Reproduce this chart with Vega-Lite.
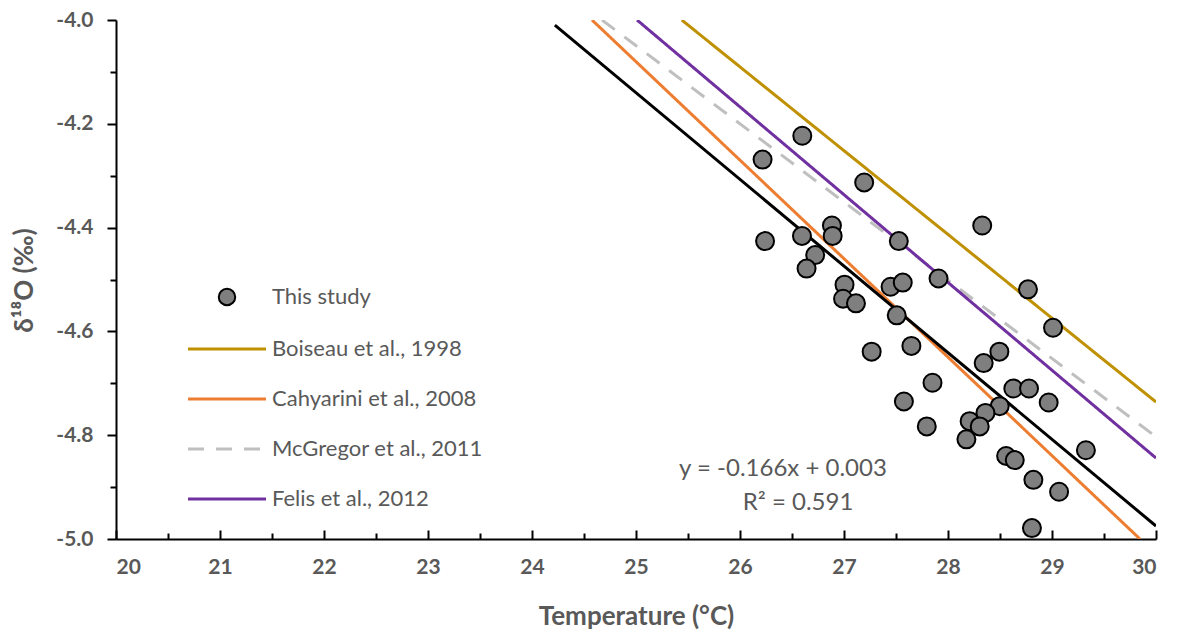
{
  "$schema": "https://vega.github.io/schema/vega-lite/v6.json",
  "width": 1040,
  "height": 519,
  "autosize": {"type": "none"},
  "padding": {"left": 116, "top": 20, "right": 22, "bottom": 93},
  "background": "#ffffff",
  "config": {
    "view": {"stroke": null},
    "font": "Lato",
    "axis": {"grid": false, "domainColor": "#000000", "domainWidth": 2, "tickColor": "#000000", "tickWidth": 2,
      "labelFont": "Lato", "labelFontWeight": "bold", "labelColor": "#595959", "labelFontSize": 21,
      "titleFont": "Lato", "titleFontWeight": "bold", "titleColor": "#595959", "titleFontSize": 26}
  },
  "datasets": {
    "points": [
      {"T": 26.599, "d": -4.223}, {"T": 26.217, "d": -4.269}, {"T": 27.194, "d": -4.313},
      {"T": 28.329, "d": -4.396}, {"T": 26.884, "d": -4.396}, {"T": 26.891, "d": -4.416},
      {"T": 26.596, "d": -4.416}, {"T": 26.241, "d": -4.426}, {"T": 27.527, "d": -4.426},
      {"T": 26.723, "d": -4.453}, {"T": 26.640, "d": -4.479}, {"T": 27.909, "d": -4.498},
      {"T": 28.769, "d": -4.519}, {"T": 27.005, "d": -4.510}, {"T": 27.448, "d": -4.514},
      {"T": 27.565, "d": -4.506}, {"T": 26.991, "d": -4.537}, {"T": 27.115, "d": -4.546},
      {"T": 27.507, "d": -4.569}, {"T": 29.010, "d": -4.593}, {"T": 27.648, "d": -4.628},
      {"T": 27.266, "d": -4.639}, {"T": 28.494, "d": -4.639}, {"T": 28.343, "d": -4.661},
      {"T": 27.851, "d": -4.699}, {"T": 28.628, "d": -4.710}, {"T": 28.779, "d": -4.710},
      {"T": 27.576, "d": -4.735}, {"T": 28.968, "d": -4.737}, {"T": 28.497, "d": -4.744},
      {"T": 28.360, "d": -4.757}, {"T": 28.208, "d": -4.773}, {"T": 28.305, "d": -4.783},
      {"T": 27.796, "d": -4.783}, {"T": 28.177, "d": -4.808}, {"T": 29.326, "d": -4.829},
      {"T": 28.559, "d": -4.840}, {"T": 28.642, "d": -4.848}, {"T": 28.821, "d": -4.886},
      {"T": 29.068, "d": -4.909}, {"T": 28.807, "d": -4.979}
    ],
    "lines": [
      {"series": "Boiseau et al., 1998", "T": 25.44, "d": -4.0},
      {"series": "Boiseau et al., 1998", "T": 30.0, "d": -4.736},
      {"series": "Cahyarini et al., 2008", "T": 24.577, "d": -4.0},
      {"series": "Cahyarini et al., 2008", "T": 29.846, "d": -5.0},
      {"series": "McGregor et al., 2011", "T": 24.673, "d": -4.0},
      {"series": "McGregor et al., 2011", "T": 30.0, "d": -4.803},
      {"series": "Felis et al., 2012", "T": 25.01, "d": -4.0},
      {"series": "Felis et al., 2012", "T": 30.0, "d": -4.844}
    ],
    "fit": [
      {"T": 24.22, "d": -4.010},
      {"T": 30.0, "d": -4.975}
    ],
    "labels": [
      {"T": 26.413, "d": -4.866, "text": "y = -0.166x + 0.003"},
      {"T": 26.558, "d": -4.931, "text": "R² = 0.591"}
    ]
  },
  "encoding": {
    "x": {"field": "T", "type": "quantitative",
      "scale": {"domain": [20, 30], "nice": false, "zero": false},
      "axis": {"title": "Temperature (°C)", "values": [20, 20.5, 21, 21.5, 22, 22.5, 23, 23.5, 24, 24.5, 25, 25.5, 26, 26.5, 27, 27.5, 28, 28.5, 29, 29.5, 30],
        "labelExpr": "datum.value % 1 === 0 ? format(datum.value, 'd') : ''",
        "tickSize": {"condition": {"test": "datum.value % 1 === 0", "value": -9}, "value": -6},
        "labelPadding": 26, "titleBaseline": "middle", "titleY": 77}},
    "y": {"field": "d", "type": "quantitative",
      "scale": {"domain": [-5.0, -4.0], "nice": false, "zero": false},
      "axis": {"title": "δ¹⁸O (‰)", "values": [-5.0, -4.9, -4.8, -4.7, -4.6, -4.5, -4.4, -4.3, -4.2, -4.1, -4.0],
        "labelExpr": "abs(round(datum.value * 10)) % 2 === 0 ? '-' + format(abs(datum.value), '.1f') : ''",
        "tickSize": {"condition": {"test": "abs(round(datum.value * 10)) % 2 === 0", "value": 9}, "value": 6},
        "labelPadding": 14, "titleX": -92, "titleY": 260, "titleAngle": -90, "titleBaseline": "middle", "titleAlign": "center"}}
  },
  "layer": [
    {
      "data": {"name": "lines"},
      "mark": {"type": "line", "strokeWidth": 3, "clip": true},
      "encoding": {
        "color": {"field": "series", "type": "nominal",
          "scale": {"domain": ["This study", "Boiseau et al., 1998", "Cahyarini et al., 2008", "McGregor et al., 2011", "Felis et al., 2012"],
            "range": ["#000000", "#BF9000", "#ED7D31", "#BFBFBF", "#7030A0"]},
          "legend": {"title": null, "orient": "none", "legendX": 100, "legendY": 266, "padding": 0,
            "symbolSize": 272, "labelOffset": 34, "rowPadding": 28,
            "symbolStrokeWidth": 2,
            "labelFont": "Lato", "labelFontSize": 22, "labelColor": "#595959", "labelLimit": 400,
            "encode": {"symbols": {"update": {
              "shape": {"signal": "datum.value === 'This study' ? 'circle' : 'stroke'"},
              "size": {"signal": "datum.value === 'This study' ? 272 : 6084"},
              "fill": {"signal": "datum.value === 'This study' ? '#7f7f7f' : 'transparent'"},
              "strokeWidth": {"signal": "datum.value === 'This study' ? 2 : 3"},
              "strokeDash": {"signal": "datum.value === 'McGregor et al., 2011' ? [16, 12] : []"},
              "opacity": {"value": 1},
              "strokeOpacity": {"value": 1},
              "fillOpacity": {"value": 1}
            }}}}},
        "strokeDash": {"field": "series", "type": "nominal",
          "scale": {"domain": ["Boiseau et al., 1998", "Cahyarini et al., 2008", "McGregor et al., 2011", "Felis et al., 2012"],
            "range": [[1, 0], [1, 0], [16, 12], [1, 0]]},
          "legend": null}
      }
    },
    {
      "data": {"name": "fit"},
      "mark": {"type": "line", "strokeWidth": 3, "color": "#000000", "clip": true},
      "encoding": {}
    },
    {
      "data": {"name": "points"},
      "mark": {"type": "point", "filled": true, "fill": "#7f7f7f", "stroke": "#000000", "strokeWidth": 2, "size": 324, "opacity": 1, "clip": false},
      "encoding": {}
    },
    {
      "data": {"name": "labels"},
      "mark": {"type": "text", "font": "Lato", "fontSize": 24, "color": "#595959", "align": "center", "baseline": "middle"},
      "encoding": {"text": {"field": "text"}}
    }
  ]
}
